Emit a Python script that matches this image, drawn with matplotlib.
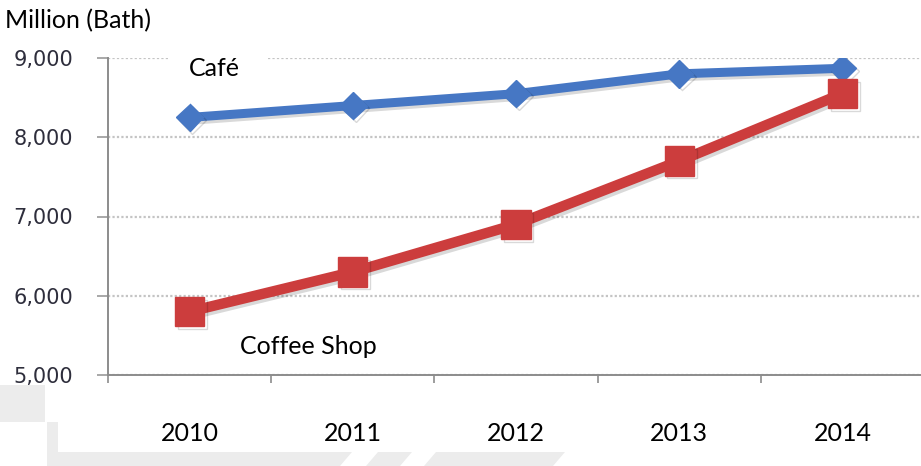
import matplotlib
matplotlib.use("Agg")
import matplotlib.pyplot as plt
import matplotlib.patheffects as pe
from matplotlib.patches import Polygon, Rectangle

years = ["2010", "2011", "2012", "2013", "2014"]
cafe = [8250, 8400, 8550, 8800, 8870]
coffee_shop = [5800, 6300, 6900, 7700, 8550]
y_ticks = [5000, 6000, 7000, 8000, 9000]

W, H = 921, 466
fig = plt.figure(figsize=(W / 100, H / 100), dpi=100)


def fx(px):
    return px / W


def fy(py):
    return 1 - py / H


# faint watermark shapes behind the chart
wm = "#ececec"
for pts in [
    [(47, 422), (58, 422), (58, 452), (352, 452), (340, 466), (47, 466)],
    [(378, 452), (412, 452), (400, 466), (366, 466)],
    [(436, 452), (565, 452), (553, 466), (424, 466)],
    [(0, 385), (45, 385), (45, 422), (0, 422)],
]:
    fig.patches.append(Polygon([(fx(x), fy(y)) for x, y in pts],
                               closed=True, transform=fig.transFigure,
                               facecolor=wm, edgecolor="none", zorder=0))

ax = fig.add_axes([fx(108), fy(375), fx(924) - fx(108), fy(58) - fy(375)])
ax.set_facecolor("none")
x = list(range(len(years)))

shadow = [pe.SimpleLineShadow(offset=(2, -2), alpha=0.15, shadow_color="black"),
          pe.Normal()]
ax.plot(x, cafe, color="#4677C4", lw=6.5, marker="D", markersize=14,
        zorder=4, path_effects=shadow)
ax.plot(x, coffee_shop, color="#CC3D3D", lw=7.5, marker="s", markersize=21,
        zorder=4, path_effects=shadow)

ax.set_xlim(-0.5, 4.5)
ax.set_ylim(5000, 9000)
ax.set_yticks(y_ticks)
ax.set_yticklabels([f"{v:,}" for v in y_ticks], fontsize=15,
                   family="DejaVu Sans", color="#2e2e3c")
ax.set_xticks(x)
ax.set_xticklabels(years, fontsize=18, family="Lato", color="black")
ax.set_xticks([i - 0.5 for i in range(len(years) + 1)], minor=True)
ax.tick_params(axis="x", which="major", length=0, pad=34)
ax.tick_params(axis="x", which="minor", length=6, color="#8c8c8c", width=1.2)
ax.tick_params(axis="y", length=8, color="#9a9a9a", width=1.2, pad=17)

ax.grid(axis="y", color="#c4c4c4", linestyle=(0, (1, 1)), lw=1.6)
ax.set_axisbelow(True)
for s in ["top", "right"]:
    ax.spines[s].set_visible(False)
for s in ["left", "bottom"]:
    ax.spines[s].set_color("#8c8c8c")
    ax.spines[s].set_linewidth(1.4)

# white box behind the Café label
ax.add_patch(Rectangle((fx(170), fy(100)), fx(97), fy(43) - fy(100),
                       transform=fig.transFigure, facecolor="white",
                       edgecolor="none", zorder=3, clip_on=False))
fig.text(fx(214), fy(68), "Café", fontsize=18, family="Lato",
         ha="center", va="center", zorder=5)
fig.text(fx(308), fy(346), "Coffee Shop", fontsize=18, family="Lato",
         ha="center", va="center")
fig.text(fx(5), fy(21), "Million (Bath)", fontsize=18, family="Lato",
         ha="left", va="center")

fig.savefig("out.png", dpi=100)
